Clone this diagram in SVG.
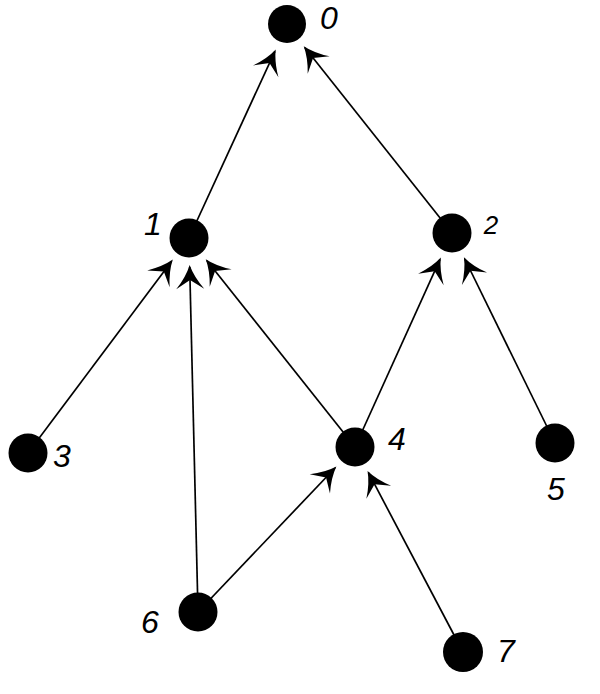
<svg xmlns="http://www.w3.org/2000/svg" width="600" height="694" viewBox="0 0 600 694">
<style>
.edge{stroke:#000;stroke-width:1.7;fill:none;marker-end:url(#dart)}
.node circle{fill:#000}
.lbl{font-family:"Liberation Sans",Arial,sans-serif;font-style:italic;font-size:32px;fill:#000;text-anchor:middle}
.small{font-size:26px}
</style>
<defs>
<marker id="dart" markerUnits="userSpaceOnUse" refX="0" refY="0" markerWidth="30" markerHeight="30" orient="auto" overflow="visible">
<path d="M2,0 Q-10,-4 -22,-14 L-13,0 L-22,14 Q-10,4 2,0 Z" fill="#000"/>
</marker>
</defs>
<rect width="600" height="694" fill="#fff"/>
<g id="connectors">
<line class="edge" x1="189" y1="238" x2="274.9" y2="51.3"/>
<line class="edge" x1="452" y1="233" x2="305" y2="47.7"/>
<line class="edge" x1="28" y1="453" x2="171.6" y2="261.2"/>
<line class="edge" x1="198" y1="612" x2="189.7" y2="267"/>
<line class="edge" x1="355" y1="447" x2="207" y2="260.7"/>
<line class="edge" x1="355" y1="447" x2="440" y2="259.4"/>
<line class="edge" x1="555" y1="443" x2="464.8" y2="259"/>
<line class="edge" x1="198" y1="612" x2="335" y2="468"/>
<line class="edge" x1="463" y1="652" x2="368.5" y2="472.7"/>
</g>
<g id="node0" class="node"><circle cx="287" cy="24" r="19"/><text class="lbl" x="329" y="29">0</text></g>
<g id="node1" class="node"><circle cx="189" cy="238" r="19.5"/><text class="lbl" x="153" y="235">1</text></g>
<g id="node2" class="node"><circle cx="452" cy="233" r="19.5"/><text class="lbl small" x="491" y="234">2</text></g>
<g id="node3" class="node"><circle cx="28" cy="453" r="19.5"/><text class="lbl" x="62" y="467">3</text></g>
<g id="node4" class="node"><circle cx="355" cy="447" r="19.5"/><text class="lbl" x="397" y="450">4</text></g>
<g id="node5" class="node"><circle cx="555" cy="443" r="19.5"/><text class="lbl" x="556" y="500">5</text></g>
<g id="node6" class="node"><circle cx="198" cy="612" r="19.5"/><text class="lbl" x="150" y="633">6</text></g>
<g id="node7" class="node"><circle cx="463" cy="652" r="20"/><text class="lbl" x="506" y="662">7</text></g>
</svg>
